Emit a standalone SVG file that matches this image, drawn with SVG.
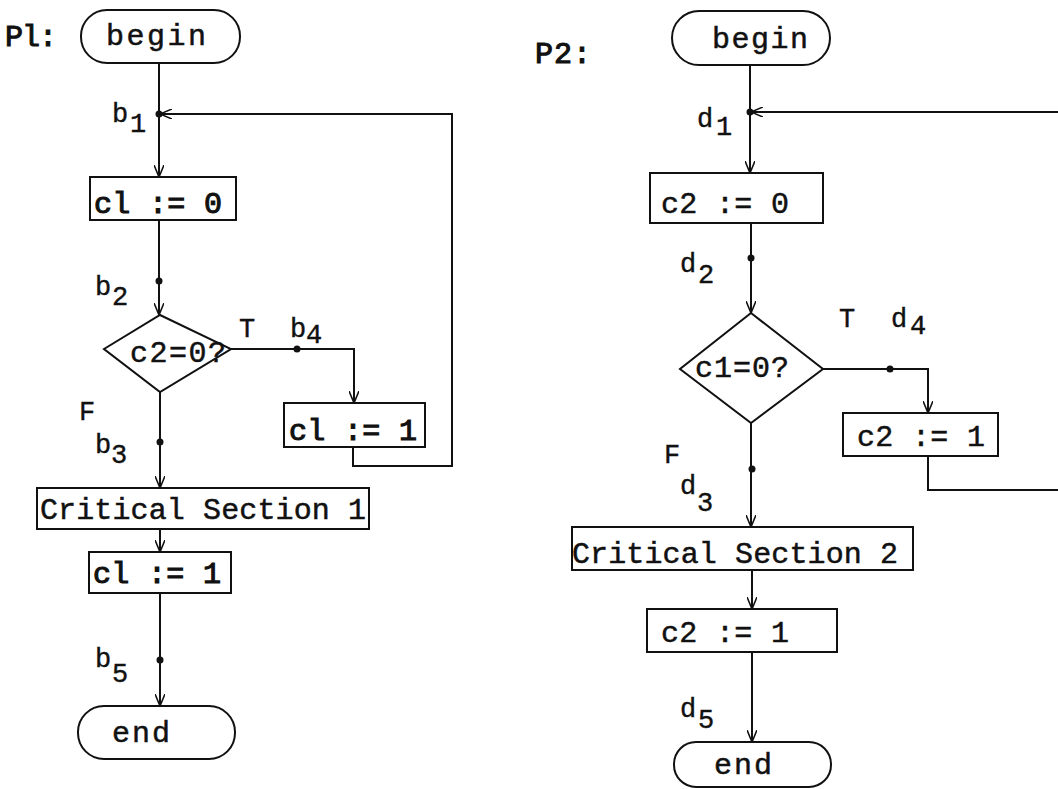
<svg xmlns="http://www.w3.org/2000/svg" width="1058" height="789" viewBox="0 0 1058 789">
<style>
.t{font-family:"Liberation Mono","DejaVu Sans Mono",monospace;font-size:30px;fill:#111;stroke:#111;stroke-width:0.5}
.b{stroke-width:1.1}
.l{font-family:"Liberation Mono","DejaVu Sans Mono",monospace;font-size:27px;fill:#111;stroke:#111;stroke-width:0.4}
.s{fill:#fff;stroke:#111;stroke-width:2}
.c{fill:none;stroke:#111;stroke-width:2}
.d{fill:#111}
</style>
<defs>
<marker id="ah" viewBox="0 0 12 10" refX="12" refY="5" markerWidth="12" markerHeight="10" markerUnits="userSpaceOnUse" orient="auto">
<path d="M0,0 L12,5 L0,10" fill="none" stroke="#111" stroke-width="1.6"/>
</marker>
</defs>
<rect width="1058" height="789" fill="#fff"/>

<g id="connectors">
<path class="c" d="M159,63 V177" marker-end="url(#ah)"/>
<path class="c" d="M353,447 V466 H452 V114 H160" marker-end="url(#ah)"/>
<path class="c" d="M159,220 V315" marker-end="url(#ah)"/>
<path class="c" d="M231,349 H354 V403" marker-end="url(#ah)"/>
<path class="c" d="M160,392 V488" marker-end="url(#ah)"/>
<path class="c" d="M160,529 V552" marker-end="url(#ah)"/>
<path class="c" d="M160,593 V706" marker-end="url(#ah)"/>
<circle class="d" cx="159" cy="114" r="3.5"/>
<circle class="d" cx="159" cy="281" r="3.5"/>
<circle class="d" cx="297" cy="349" r="3.5"/>
<circle class="d" cx="160" cy="442" r="3.5"/>
<circle class="d" cx="160" cy="660" r="3.5"/>

<path class="c" d="M750,65 V173" marker-end="url(#ah)"/>
<path class="c" d="M928,456 V490 H1075 V112 H751" marker-end="url(#ah)"/>
<path class="c" d="M751,223 V313" marker-end="url(#ah)"/>
<path class="c" d="M823,369 H928 V413" marker-end="url(#ah)"/>
<path class="c" d="M751,423 V527" marker-end="url(#ah)"/>
<path class="c" d="M752,570 V609" marker-end="url(#ah)"/>
<path class="c" d="M752,652 V742" marker-end="url(#ah)"/>
<circle class="d" cx="750" cy="112" r="3.5"/>
<circle class="d" cx="751" cy="258" r="3.5"/>
<circle class="d" cx="890" cy="369" r="3.5"/>
<circle class="d" cx="752" cy="469" r="3.5"/>
</g>

<g id="labels">
<text class="t b" x="5" y="46" textLength="52">Pl:</text>
<text class="l" x="112" y="122">b</text><text class="l" x="130" y="132">1</text>
<text class="l" x="95" y="295">b</text><text class="l" x="112" y="305">2</text>
<text class="l" x="239" y="337">T</text>
<text class="l" x="290" y="337">b</text><text class="l" x="306" y="343">4</text>
<text class="l" x="79" y="420">F</text>
<text class="l" x="95" y="453">b</text><text class="l" x="111" y="463">3</text>
<text class="l" x="95" y="667">b</text><text class="l" x="112" y="682">5</text>

<text class="t b" x="535" y="63" textLength="56">P2:</text>
<text class="l" x="697" y="127">d</text><text class="l" x="716" y="135">1</text>
<text class="l" x="680" y="272">d</text><text class="l" x="698" y="283">2</text>
<text class="l" x="839" y="327">T</text>
<text class="l" x="891" y="327">d</text><text class="l" x="910" y="334">4</text>
<text class="l" x="664" y="463">F</text>
<text class="l" x="680" y="494">d</text><text class="l" x="697" y="511">3</text>
<text class="l" x="680" y="717">d</text><text class="l" x="698" y="728">5</text>
</g>

<g id="p1-begin"><rect class="s" x="81" y="10" width="159" height="53" rx="26"/><text class="t" x="106" y="45" textLength="100">begin</text></g>
<g id="p1-c1-0"><rect class="s" x="90" y="177" width="146" height="43"/><text class="t b" x="94" y="213" textLength="128">cl := 0</text></g>
<g id="p1-test"><path class="s" d="M160,315 L231,349 L160,392 L104,349 Z"/><text class="t" x="130" y="362" textLength="96">c2=0?</text></g>
<g id="p1-c1-1a"><rect class="s" x="284" y="403" width="141" height="44"/><text class="t b" x="289" y="440" textLength="128">cl := 1</text></g>
<g id="p1-cs"><rect class="s" x="37" y="488" width="332" height="41"/><text class="t" x="40" y="519" textLength="326">Critical Section 1</text></g>
<g id="p1-c1-1b"><rect class="s" x="89" y="552" width="142" height="41"/><text class="t b" x="93" y="583" textLength="128">cl := 1</text></g>
<g id="p1-end"><rect class="s" x="78" y="706" width="157" height="53" rx="26"/><text class="t" x="112" y="742" textLength="58">end</text></g>

<g id="p2-begin"><rect class="s" x="672" y="11" width="158" height="54" rx="27"/><text class="t" x="712" y="48" textLength="96">begin</text></g>
<g id="p2-c2-0"><rect class="s" x="650" y="173" width="173" height="50"/><text class="t" x="661" y="213" textLength="128">c2 := 0</text></g>
<g id="p2-test"><path class="s" d="M751,313 L823,369 L751,423 L680,369 Z"/><text class="t" x="695" y="377" textLength="94">c1=0?</text></g>
<g id="p2-c2-1a"><rect class="s" x="843" y="413" width="155" height="43"/><text class="t" x="857" y="446" textLength="128">c2 := 1</text></g>
<g id="p2-cs"><rect class="s" x="572" y="527" width="341" height="43"/><text class="t" x="572" y="563" textLength="326">Critical Section 2</text></g>
<g id="p2-c2-1b"><rect class="s" x="647" y="609" width="190" height="43"/><text class="t" x="661" y="642" textLength="128">c2 := 1</text></g>
<g id="p2-end"><rect class="s" x="674" y="742" width="157" height="45" rx="22"/><text class="t" x="714" y="774" textLength="58">end</text></g>
</svg>
